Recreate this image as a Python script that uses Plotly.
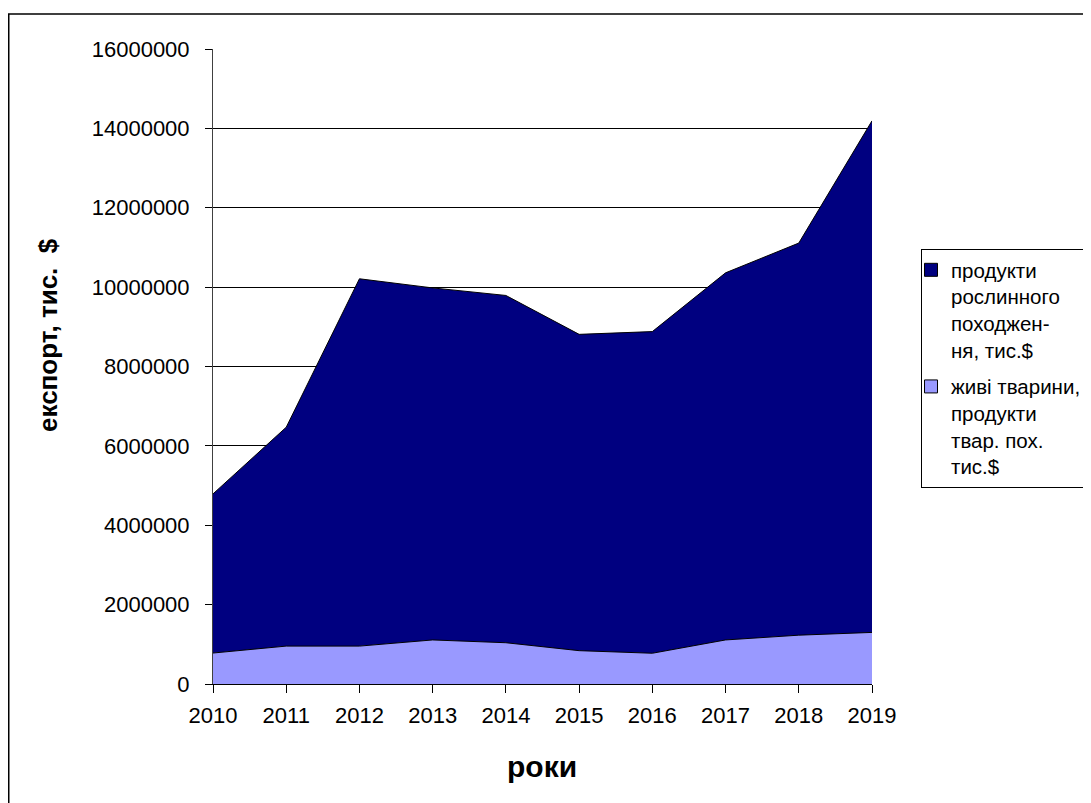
import plotly.graph_objects as go

years = [2010, 2011, 2012, 2013, 2014, 2015, 2016, 2017, 2018, 2019]
# живі тварини, продукти тваринного походження, тис.$
animal = [780000, 955000, 955000, 1110000, 1040000, 840000, 775000, 1110000, 1230000, 1300000]
# продукти рослинного походження, тис.$ (stacked on top)
plant = [4010000, 5515000, 9255000, 8870000, 8750000, 7970000, 8105000, 9250000, 9880000, 12890000]

name_animal = "живі тварини,<br>продукти<br>твар. пох.<br>тис.$"
name_plant = "продукти<br>рослинного<br>походжен-<br>ня, тис.$"
c_animal = "#9999FF"
c_plant = "#000080"

font = "Liberation Sans, Arial, sans-serif"

# page body has an 8px margin; work in paper pixels
L, T, W, H = 205, 41, 659, 635

fig = go.Figure()
fig.add_trace(go.Scatter(
    x=years, y=animal, name=name_animal, stackgroup="one", mode="lines",
    line=dict(color="black", width=1), fillcolor=c_animal, showlegend=False,
))
fig.add_trace(go.Scatter(
    x=years, y=plant, name=name_plant, stackgroup="one", mode="lines",
    line=dict(color="black", width=1), fillcolor=c_plant, showlegend=False,
))
# legend entries with square swatches
fig.add_trace(go.Scatter(
    x=[years[0]], y=[None], name=name_plant, mode="markers", legendgroup="a",
    marker=dict(symbol="square", size=13, color=c_plant, line=dict(color="black", width=1)),
))
fig.add_trace(go.Scatter(
    x=[years[0]], y=[None], name=name_animal, mode="markers", legendgroup="b",
    marker=dict(symbol="square", size=13, color=c_animal, line=dict(color="black", width=1)),
))

def px_x(p):
    return (p - L) / W

def px_y(p):
    return 1 - (p - T) / H

fig.update_layout(
    width=1091, height=803,
    margin=dict(l=L, r=1091 - L - W, t=T, b=803 - T - H, autoexpand=False),
    paper_bgcolor="white", plot_bgcolor="white",
    font=dict(family=font, size=22, color="black"),
    showlegend=True,
    legend=dict(
        x=px_x(913), y=px_y(241), xanchor="left", yanchor="top",
        bordercolor="black", borderwidth=1, bgcolor="white",
        font=dict(size=20.5, family=font), valign="top",
        itemwidth=30, tracegroupgap=7, indentation=-11,
        entrywidth=250, entrywidthmode="pixels",
    ),
    xaxis=dict(
        range=[2010, 2019], tickvals=years, ticktext=[str(y) for y in years],
        showgrid=False, zeroline=False,
        showline=True, linecolor="black", linewidth=1,
        ticks="outside", ticklen=8, tickcolor="black",
        tickfont=dict(size=22, family=font), ticklabelstandoff=4,
    ),
    yaxis=dict(
        range=[0, 16000000], tickvals=list(range(0, 16000001, 2000000)),
        ticktext=[str(v) for v in range(0, 16000001, 2000000)],
        showgrid=True, gridcolor="black", gridwidth=1,
        zeroline=False,
        showline=True, linecolor="#404040", linewidth=1,
        ticks="outside", ticklen=7, tickcolor="black",
        tickfont=dict(size=22, family=font), ticklabelstandoff=11,
    ),
    annotations=[
        dict(text="<b>експорт, тис.  $</b>", textangle=-90, showarrow=False,
             xref="paper", yref="paper", x=px_x(40), y=px_y(327),
             xanchor="center", yanchor="middle", font=dict(size=26, family=font)),
        dict(text="<b>роки</b>", showarrow=False,
             xref="paper", yref="paper", x=px_x(534), y=px_y(758),
             xanchor="center", yanchor="middle", font=dict(size=30, family=font)),
    ],
    shapes=[dict(
        type="rect", xref="paper", yref="paper",
        x0=px_x(0.75), x1=1.6, y0=-0.5, y1=px_y(6),
        line=dict(color="black", width=1.5), fillcolor="rgba(0,0,0,0)", layer="below",
    )],
)

fig.write_html("out.html")
